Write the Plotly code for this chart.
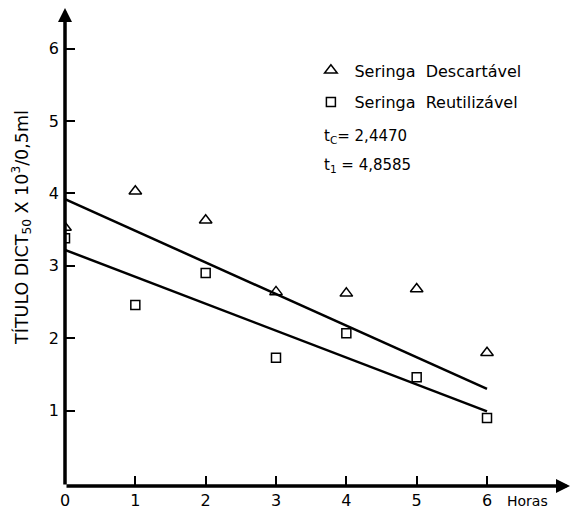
import plotly.graph_objects as go

hours = [0, 1, 2, 3, 4, 5, 6]
descartavel = [3.53, 4.03, 3.63, 2.64, 2.62, 2.68, 1.80]
reutilizavel = [3.38, 2.46, 2.90, 1.73, 2.07, 1.46, 0.90]
fit_x = [0, 6]
fit_descartavel = [3.92, 1.30]
fit_reutilizavel = [3.22, 0.99]
x_ticks = [0, 1, 2, 3, 4, 5, 6]
y_ticks = [1, 2, 3, 4, 5, 6]

FONT = "DejaVu Sans"
fig = go.Figure()
fig.add_trace(go.Scatter(x=fit_x, y=fit_descartavel, mode="lines",
                         line=dict(color="black", width=2.5), showlegend=False, hoverinfo="skip"))
fig.add_trace(go.Scatter(x=fit_x, y=fit_reutilizavel, mode="lines",
                         line=dict(color="black", width=2.5), showlegend=False, hoverinfo="skip"))
fig.add_trace(go.Scatter(x=hours, y=descartavel, mode="markers", name="Seringa  Descartável",
                         legendgroup="a",
                         marker=dict(symbol="triangle-up-open", size=11, color="black",
                                     line=dict(width=1.5, color="black"))))
fig.add_trace(go.Scatter(x=hours, y=reutilizavel, mode="markers", name="Seringa  Reutilizável",
                         legendgroup="b",
                         marker=dict(symbol="square-open", size=9, color="black",
                                     line=dict(width=1.5, color="black"))))

fig.update_layout(
    width=577, height=511,
    margin=dict(l=65, r=7, t=8, b=25, autoexpand=False),
    paper_bgcolor="white", plot_bgcolor="white",
    font=dict(family=FONT, size=15, color="black"),
    showlegend=True,
    legend=dict(x=0.480, y=0.905, xanchor="left", yanchor="top",
                bgcolor="rgba(0,0,0,0)", font=dict(size=16), tracegroupgap=8,
                itemwidth=37),
    xaxis=dict(range=[0, 7.18], tickvals=x_ticks, ticks="inside", ticklen=10, tickwidth=1.5,
               tickcolor="black", showgrid=False, zeroline=False, showline=False,
               automargin=False, ticklabelstandoff=3, tickfont=dict(size=16)),
    yaxis=dict(range=[-0.04, 6.56], tickvals=y_ticks, ticks="inside", ticklen=10, tickwidth=1.5,
               tickcolor="black", showgrid=False, zeroline=False, showline=False,
               automargin=False, ticklabelstandoff=5, tickfont=dict(size=16)),
)

# axes drawn as arrows
fig.add_annotation(x=7.18, y=-0.04, ax=0, ay=-0.04, xref="x", yref="y", axref="x", ayref="y",
                   showarrow=True, arrowhead=2, arrowsize=0.8, arrowwidth=3.5, arrowcolor="black", text="")
fig.add_annotation(x=0, y=6.56, ax=0, ay=-0.04, xref="x", yref="y", axref="x", ayref="y",
                   showarrow=True, arrowhead=2, arrowsize=0.8, arrowwidth=3.5, arrowcolor="black", text="")

fig.add_annotation(x=6.25, y=-0.04, xref="x", yref="y", yshift=-15, xanchor="left", yanchor="middle",
                   text="Horas", showarrow=False, font=dict(size=14))

# y title
fig.add_annotation(x=-0.085, y=0.540, xref="paper", yref="paper", textangle=-90, showarrow=False,
                   text="TÍTULO DICT<sub>50</sub> X 10<sup>3</sup>/0,5ml", font=dict(size=17.5),
                   xanchor="center", yanchor="middle")

fig.add_annotation(x=3.66, y=4.79, xref="x", yref="y", xanchor="left", yanchor="middle",
                   showarrow=False, text="t<sub>C</sub>= 2,4470", font=dict(size=15))
fig.add_annotation(x=3.66, y=4.38, xref="x", yref="y", xanchor="left", yanchor="middle",
                   showarrow=False, text="t<sub>1</sub> = 4,8585", font=dict(size=15))

fig.write_html("out.html", config={"displayModeBar": False},
               post_script="document.body.style.margin='0';")
